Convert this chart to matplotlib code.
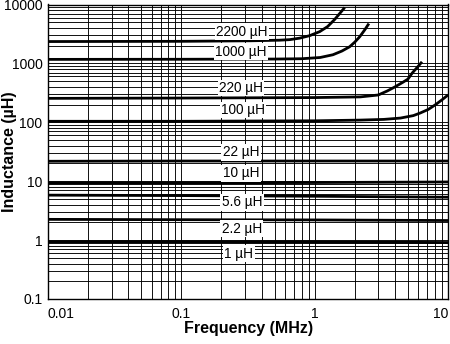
import numpy as np
import matplotlib
matplotlib.use("Agg")
import matplotlib.pyplot as plt
from matplotlib.ticker import FixedLocator, NullFormatter

plt.rcParams['font.family'] = ['Liberation Sans', 'DejaVu Sans']

# inductance vs frequency, one curve per nominal value (MHz, uH)
names = ['2200 µH', '1000 µH', '220 µH', '100 µH', '22 µH', '10 µH', '5.6 µH', '2.2 µH', '1 µH']

f_2200 = [0.01, 0.1, 0.33, 0.545, 0.649, 0.771, 0.917, 1.09, 1.25, 1.41, 1.54, 1.68]
l_2200 = [2350, 2370, 2420, 2477, 2530, 2682, 2958, 3460, 4217, 5546, 7020, 8890]

f_1000 = [0.01, 0.1, 0.5, 0.8, 1.1, 1.37, 1.6, 1.83, 2.0, 2.18, 2.38, 2.55]
l_1000 = [1170, 1175, 1185, 1200, 1260, 1402, 1620, 1918, 2300, 2846, 3740, 4745]

f_220 = [0.01, 0.1, 1, 2.2, 3.0, 3.5, 4.0, 4.6, 5.0, 5.4, 5.84, 6.38]
l_220 = [255, 258, 263, 270, 291, 340, 399, 480, 540, 690, 841, 1064]

f_100 = [0.01, 0.1, 1, 2.2, 3.3, 4.4, 5.5, 6.2, 7.1, 8.0, 9.0, 10.0]
l_100 = [104, 104, 106, 109, 112, 118, 130, 144, 165, 197, 240, 291]

f_flat = [0.01, 0.1, 1, 10]
l_22 = [21.8, 22, 22, 22]
l_10 = [9.4, 9.4, 9.5, 9.7]
l_5p6 = [5.8, 5.7, 5.55, 5.35]
l_2p2 = [2.25, 2.22, 2.2, 2.15]
l_1 = [0.94, 0.94, 0.93, 0.91]

freqs = [f_2200, f_1000, f_220, f_100, f_flat, f_flat, f_flat, f_flat, f_flat]
inds = [l_2200, l_1000, l_220, l_100, l_22, l_10, l_5p6, l_2p2, l_1]

x_ticks = [0.01, 0.1, 1, 10]
x_labels = ['0.01', '0.1', '1', '10']
y_ticks = [0.1, 1, 10, 100, 1000, 10000]
y_labels = ['0.1', '1', '10', '100', '1000', '10000']

fig = plt.figure(figsize=(4.5, 3.44), dpi=100)
ax = fig.add_axes([48 / 450, 45 / 344, 400 / 450, 294.5 / 344])
ax.set_xscale('log')
ax.set_yscale('log')
ax.set_xlim(0.01, 10)
ax.set_ylim(0.1, 10000)

# full 1..9 grid in every decade
xg = [m * 10.0 ** e for e in range(-2, 1) for m in range(1, 10)]
yg = [m * 10.0 ** e for e in range(-1, 4) for m in range(1, 10)]
for v in xg[1:]:
    ax.axvline(v, color='black', lw=0.65, zorder=1)
for v in yg[1:]:
    ax.axhline(v, color='black', lw=0.65, zorder=1)

for f, l in zip(freqs, inds):
    ax.plot(f, l, color='black', lw=2.0, solid_capstyle='butt', zorder=3)

# curve labels sit in white boxes over the grid
label_x = [0.285, 0.28, 0.28, 0.29, 0.28, 0.28, 0.285, 0.285, 0.27]
label_y = [3460, 1578, 384, 161, 31, 13.6, 4.35, 1.57, 0.586]
for name, lx, ly in zip(names, label_x, label_y):
    ax.text(lx, ly, name, ha='center', va='center', fontsize=9.8, zorder=4,
            bbox=dict(boxstyle='square,pad=0.1', facecolor='white', edgecolor='none'))

ax.xaxis.set_major_locator(FixedLocator(x_ticks))
ax.yaxis.set_major_locator(FixedLocator(y_ticks))
ax.xaxis.set_minor_formatter(NullFormatter())
ax.yaxis.set_minor_formatter(NullFormatter())
ax.set_xticklabels(x_labels, fontsize=10)
ax.set_yticklabels(y_labels, fontsize=10)
ax.tick_params(which='both', length=0)
ax.tick_params(axis='x', pad=6)
ax.tick_params(axis='y', pad=4)
tl = ax.get_xticklabels()
tl[0].set_ha('left')
tl[-1].set_ha('right')

for s in ax.spines.values():
    s.set_linewidth(1.0)

fig.text(249 / 450, 1 - 329 / 344, 'Frequency (MHz)', ha='center', va='center',
         fontsize=11.5, fontweight='bold')
fig.text(10 / 450, 1 - 152 / 344, 'Inductance (µH)', ha='center', va='center',
         rotation=90, fontsize=11.5, fontweight='bold')

fig.savefig('out.png', dpi=100)
